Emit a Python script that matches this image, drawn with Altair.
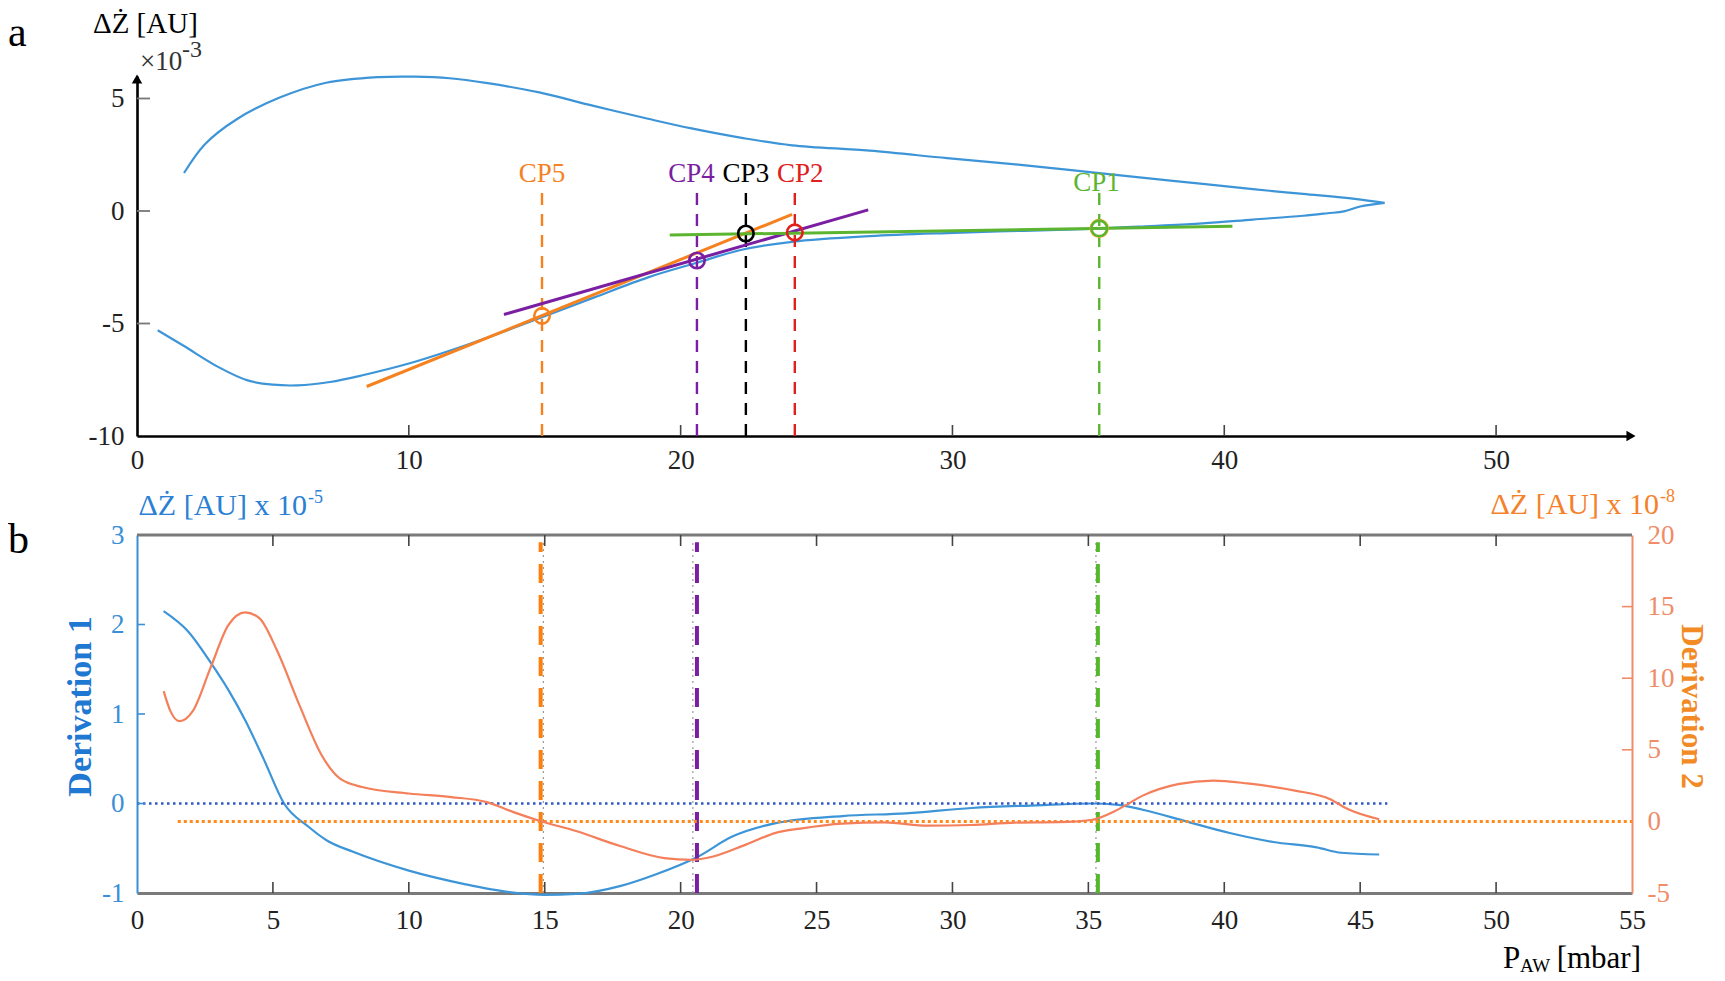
import altair as alt
import pandas as pd

FONT = "Liberation Serif"

# ---------------- Panel a data ----------------
lower_x = [0.76, 1.7, 3.0, 4.07, 5.0, 5.9, 7.1, 8.3, 10.0, 11.5, 12.9, 14.9, 16.8, 18.8, 20.6,
           22.25, 24.1, 26.95, 29.8, 32.6, 35.4, 37.3, 39.2, 41.05, 42.9, 43.8, 44.4, 45.0, 45.9]
lower_y = [-5.3, -5.98, -6.94, -7.53, -7.72, -7.75, -7.6, -7.3, -6.78, -6.21, -5.62, -4.72, -3.85, -2.95, -2.3,
           -1.72, -1.37, -1.12, -0.98, -0.88, -0.78, -0.67, -0.55, -0.38, -0.21, -0.1, -0.02, 0.2, 0.36]
upper_x = [45.9, 44.8, 42.9, 41.05, 38.2, 35.4, 32.6, 29.8, 26.95, 24.1, 22.25, 20.4, 18.8, 16.8,
           14.8, 12.9, 11.5, 10.2, 8.9, 6.96, 5.25, 3.67, 2.5, 1.73]
upper_y = [0.36, 0.54, 0.76, 0.97, 1.33, 1.68, 2.04, 2.35, 2.68, 2.92, 3.25, 3.67, 4.1, 4.67,
           5.27, 5.68, 5.9, 5.97, 5.95, 5.7, 5.04, 4.08, 2.97, 1.69]

tan_x1 = [8.45, 13.5, 19.6]
tan_y1 = [-7.8, -4.6, -1.07]
tan_x2 = [24.1, 26.9, 40.3]
tan_y2 = [-0.15, 0.05, -0.68]
tan_col = ["#f5821f", "#7b1fa2", "#5cb531"]

cp_names = ["CP5", "CP4", "CP3", "CP2", "CP1"]
cp_x = [14.9, 20.6, 22.4, 24.2, 35.4]
cp_y = [-4.66, -2.2, -1.0, -0.95, -0.77]
cp_bottom = [-10, -10, -10, -10, -10]
cp_top = [0.8, 0.8, 0.8, 0.8, 0.8]
cp_label_x = [14.9, 20.4, 22.4, 24.4, 35.3]
cp_label_y = [1.65, 1.65, 1.65, 1.65, 1.25]
cp_col = ["#f5821f", "#7b1fa2", "#000000", "#e0201b", "#5cb531"]

xa_labels = [0, 10, 20, 30, 40, 50]
ya_labels = [-10, -5, 0, 5]
xa_ticks = [10, 20, 30, 40, 50]
ya_ticks = [-5, 0, 5]

# ---------------- Panel b data ----------------
d1_x = [0.98, 1.89, 2.7, 3.36, 4.0, 4.67, 5.41, 6.31, 6.97, 7.95, 10.0, 12.05, 13.7, 15.0, 16.15, 17.8,
        19.1, 20.6, 21.9, 23.5, 25.95, 28.3, 30.7, 33.1, 35.1, 36.1, 37.0, 38.6, 40.2, 41.8, 43.4, 44.3, 45.7]
d1_y = [2.15, 1.92, 1.58, 1.27, 0.92, 0.49, 0.0, -0.26, -0.41, -0.54, -0.75, -0.9, -0.99, -1.02, -1.01, -0.92,
        -0.79, -0.6, -0.37, -0.22, -0.14, -0.11, -0.05, -0.02, 0.0, -0.015, -0.07, -0.2, -0.33, -0.43, -0.49, -0.55, -0.57]
d2_x = [0.98, 1.23, 1.56, 2.05, 2.7, 3.36, 3.98, 4.5, 5.16, 5.98, 6.8, 7.46, 8.28, 10.0, 11.56, 12.87, 13.85,
        14.8, 16.15, 17.8, 19.4, 20.4, 21.2, 22.4, 23.5, 24.4, 25.95, 27.5, 29.1, 30.7, 32.3, 33.9, 35.1, 36.1,
        37.0, 38.3, 39.6, 40.85, 42.6, 43.9, 44.5, 45.7]
d2_y = [9.1, 7.7, 7.0, 7.7, 10.7, 13.7, 14.6, 14.2, 11.9, 8.1, 4.6, 3.0, 2.4, 1.95, 1.7, 1.35, 0.65,
        0.05, -0.67, -1.74, -2.57, -2.69, -2.45, -1.62, -0.8, -0.5, -0.15, -0.07, -0.3, -0.25, -0.08, -0.05, 0.1, 0.84,
        1.8, 2.6, 2.85, 2.65, 2.15, 1.55, 0.9, 0.15]

zero1_x = [0]
zero1_x2 = [46]
zero2_x = [1.5]
zero2_x2 = [55]

cpb_x = [14.85, 20.6, 35.35]
cpb_gray_x = [14.95, 20.45, 35.28]
cpb_col = ["#ff7f0e", "#7b1fa2", "#55b82b"]
cpb_bottom = [-1, -1, -1]
cpb_top = [2.92, 2.92, 2.92]

xb_labels = [0, 5, 10, 15, 20, 25, 30, 35, 40, 45, 50, 55]
xb_ticks = [5, 10, 15, 20, 25, 30, 35, 40, 45, 50]
yl_labels = [-1, 0, 1, 2, 3]
yl_ticks = [0, 1, 2]
yr_labels = [-5, 0, 5, 10, 15, 20]
yr_ticks = [5, 10, 15]

W = 1495
HA = 360
HB = 358

BLUE = "#3d95d8"
SALMON = "#f47f5a"
LBLUE = "#3a8fd6"
RSAL = "#f08c68"

one = pd.DataFrame({"k": [0]})


def txt(text, x, y, size, color="black", align="left", weight="normal", baseline="middle"):
    return alt.Chart(one).mark_text(text=text, font=FONT, fontSize=size, color=color, align=align,
                                    baseline=baseline, fontWeight=weight).encode(
        x=alt.value(x), y=alt.value(y))


LEXPR = "'' + datum.value"

# ---------------- axes (same objects used by every layer) ----------------
AX_A_X = alt.Axis(values=xa_labels, title=None, grid=False, ticks=False, tickSize=0,
                  domainColor="black", domainWidth=2.6, labelFont=FONT, labelFontSize=27,
                  labelColor="#222", labelPadding=11, labelFlush=False, labelOverlap=False, labelExpr=LEXPR)
AX_A_Y = alt.Axis(values=ya_labels, title=None, grid=False, ticks=False, tickSize=0,
                  domainColor="black", domainWidth=2.6, labelFont=FONT, labelFontSize=27,
                  labelColor="#222", labelPadding=13, labelOverlap=False, labelExpr=LEXPR)
AX_B_X = alt.Axis(values=xb_labels, title=None, grid=False, ticks=False, tickSize=0,
                  domainColor="#7a7a7a", domainWidth=3, labelFont=FONT, labelFontSize=27,
                  labelColor="#222", labelPadding=14, labelFlush=False, labelOverlap=False, labelExpr=LEXPR)
AX_B_YL = alt.Axis(orient="left", values=yl_labels, grid=False, ticks=False, tickSize=0,
                   domainColor=LBLUE, domainWidth=2, labelFont=FONT, labelFontSize=27, labelColor=LBLUE,
                   labelPadding=13, labelOverlap=False, labelExpr=LEXPR,
                   title="Derivation 1", titleFont=FONT, titleFontSize=34, titleFontWeight="bold",
                   titleColor="#1f78d1", titleX=-57, titleY=HB / 2 - 8, titleAngle=270, titleAlign="center",
                   titleBaseline="middle")
AX_B_YR = alt.Axis(orient="right", values=yr_labels, grid=False, ticks=False, tickSize=0,
                   domainColor=RSAL, domainWidth=2, labelFont=FONT, labelFontSize=27, labelColor=RSAL,
                   labelPadding=15, labelOverlap=False, labelExpr=LEXPR,
                   title="Derivation 2", titleFont=FONT, titleFontSize=31, titleFontWeight="bold",
                   titleColor="#f28b25", titleX=58, titleY=HB / 2 - 8, titleAngle=90, titleAlign="center",
                   titleBaseline="middle")

xA = alt.Scale(domain=[0, 55], nice=False, zero=False)
yA = alt.Scale(domain=[-10, 6.0], nice=False, zero=False)
xB = alt.Scale(domain=[0, 55], nice=False, zero=False)
yL = alt.Scale(domain=[-1, 3], nice=False, zero=False)
yR = alt.Scale(domain=[-5, 20], nice=False, zero=False)


def XA(f):
    return alt.X(f, type="quantitative", scale=xA, axis=AX_A_X)


def YA(f):
    return alt.Y(f, type="quantitative", scale=yA, axis=AX_A_Y)


def XB(f):
    return alt.X(f, type="quantitative", scale=xB, axis=AX_B_X)


def YL(f):
    return alt.Y(f, type="quantitative", scale=yL, axis=AX_B_YL)


def YR(f):
    return alt.Y(f, type="quantitative", scale=yR, axis=AX_B_YR)


# ---------------- Panel a ----------------
loop_df = pd.DataFrame({"x": lower_x + upper_x, "y": lower_y + upper_y,
                        "i": list(range(len(lower_x) + len(upper_x)))})

loop = alt.Chart(loop_df).mark_line(color=BLUE, strokeWidth=2.2, interpolate="catmull-rom").encode(
    x=XA("x"), y=YA("y"), order="i:Q")

cp_df = pd.DataFrame({"x": cp_x, "y": cp_y, "yb": cp_bottom, "yt": cp_top, "c": cp_col,
                      "lx": cp_label_x, "ly": cp_label_y, "name": cp_names})

vdash = alt.Chart(cp_df).mark_rule(strokeWidth=2.4, strokeDash=[12, 9]).encode(
    x=XA("x"), y=YA("yb"), y2="yt:Q", color=alt.Color("c:N", scale=None))

tan_df = pd.DataFrame({"x": tan_x1, "y": tan_y1, "x2": tan_x2, "y2": tan_y2, "c": tan_col})
tan = alt.Chart(tan_df).mark_rule(strokeWidth=3).encode(
    x=XA("x"), y=YA("y"), x2="x2:Q", y2="y2:Q", color=alt.Color("c:N", scale=None))

ring = alt.Chart(cp_df.iloc[[4]]).mark_point(shape="circle", filled=False, size=300, strokeWidth=2,
                                             color="#f5a623", opacity=1).encode(x=XA("x"), y=YA("y"))

circ = alt.Chart(cp_df).mark_point(shape="circle", filled=False, size=240, strokeWidth=2.6, opacity=1).encode(
    x=XA("x"), y=YA("y"), color=alt.Color("c:N", scale=None))

cplab = alt.Chart(cp_df).mark_text(font=FONT, fontSize=27, baseline="middle", align="center").encode(
    x=XA("lx"), y=YA("ly"), text="name:N", color=alt.Color("c:N", scale=None))

xticks_a = alt.Chart(pd.DataFrame({"x": xa_ticks})).mark_rule(color="#444", strokeWidth=1.6).encode(
    x=XA("x"), y=alt.value(HA), y2=alt.value(HA - 11))
yticks_a = alt.Chart(pd.DataFrame({"y": ya_ticks})).mark_rule(color="#777", strokeWidth=1.8).encode(
    y=YA("y"), x=alt.value(0), x2=alt.value(13))

arrow_x = alt.Chart(one).mark_point(shape="triangle-right", filled=True, color="black", size=110,
                                    opacity=1).encode(x=alt.value(W - 1), y=alt.value(HA))
arrow_y = alt.Chart(one).mark_point(shape="triangle-up", filled=True, color="black", size=110,
                                    opacity=1).encode(x=alt.value(0), y=alt.value(3))

panel_a = alt.layer(
    loop, vdash, tan, ring, circ, cplab, xticks_a, yticks_a, arrow_x, arrow_y,
    txt("a", -129, -43, 42),
    txt("ΔŻ [AU]", -44, -52, 29),
    txt("×10", 3, -14, 27, color="#333"),
    txt("-3", 45, -26, 24, color="#333"),
).properties(width=W, height=HA)

# ---------------- Panel b ----------------
d1 = alt.Chart(pd.DataFrame({"x": d1_x, "y": d1_y})).mark_line(color=BLUE, strokeWidth=2.2,
                                                                 interpolate="monotone").encode(
    x=XB("x"), y=YL("y"))

z1 = alt.Chart(pd.DataFrame({"x": zero1_x, "x2": zero1_x2, "y": [0]})).mark_rule(
    color="#3158c6", strokeWidth=2.6, strokeDash=[2.5, 3.5]).encode(x=XB("x"), x2="x2:Q", y=YL("y"))

cpb_df = pd.DataFrame({"x": cpb_x, "gx": cpb_gray_x, "c": cpb_col, "yb": cpb_bottom, "yt": cpb_top})
gdots = alt.Chart(cpb_df).mark_rule(color="#999", strokeWidth=1.2, strokeDash=[2, 4]).encode(
    x=XB("gx"), y=YL("yb"), y2="yt:Q")
vdash_b = alt.Chart(cpb_df).mark_rule(strokeWidth=4, strokeDash=[19, 12]).encode(
    x=XB("x"), y=YL("yb"), y2="yt:Q", color=alt.Color("c:N", scale=None))

top_border = alt.Chart(one).mark_rule(color="#7a7a7a", strokeWidth=3).encode(
    x=alt.value(0), x2=alt.value(W), y=alt.value(0))
tick_df = pd.DataFrame({"x": xb_ticks})
tticks = alt.Chart(tick_df).mark_rule(color="#444", strokeWidth=1.6).encode(
    x=XB("x"), y=alt.value(0), y2=alt.value(11))
bticks = alt.Chart(tick_df).mark_rule(color="#444", strokeWidth=1.6).encode(
    x=XB("x"), y=alt.value(HB), y2=alt.value(HB - 11))
lticks = alt.Chart(pd.DataFrame({"y": yl_ticks})).mark_rule(color=LBLUE, strokeWidth=1.6).encode(
    y=YL("y"), x=alt.value(0), x2=alt.value(8))

left_group = alt.layer(
    d1, gdots, vdash_b, z1, top_border, tticks, bticks, lticks,
    txt("b", -129, 5, 42),
    txt("ΔŻ [AU] x 10", 170, -29, 30, color="#2b7fd4", align="right"),
    txt("-5", 171, -37, 18, color="#2b7fd4"),
    txt("ΔŻ [AU] x 10", 1522, -30, 30, color="#f5822a", align="right"),
    txt("-8", 1523, -38, 18, color="#f5822a"),
    txt("P", 1366, 424, 31),
    txt("AW", 1383, 431, 19),
    txt("[mbar]", 1504, 424, 31, align="right"),
)

d2 = alt.Chart(pd.DataFrame({"x": d2_x, "y": d2_y})).mark_line(color=SALMON, strokeWidth=2.2,
                                                                 interpolate="monotone").encode(
    x=XB("x"), y=YR("y"))

z2 = alt.Chart(pd.DataFrame({"x": zero2_x, "x2": zero2_x2, "y": [0]})).mark_rule(
    color="#ff8a1a", strokeWidth=3, strokeDash=[3, 3]).encode(x=XB("x"), x2="x2:Q", y=YR("y"))

rticks = alt.Chart(pd.DataFrame({"y": yr_ticks})).mark_rule(color=RSAL, strokeWidth=1.6).encode(
    y=YR("y"), x=alt.value(W), x2=alt.value(W - 10))

right_group = alt.layer(z2, d2, rticks)

panel_b = alt.layer(left_group, right_group).resolve_scale(y="independent").properties(width=W, height=HB)

chart = alt.vconcat(panel_a, panel_b, spacing=15,
                    padding={"top": 2, "left": 0, "right": 2, "bottom": 0}).configure_view(stroke=None)

chart.save("out.html", embed_options={"renderer": "svg", "actions": False})
